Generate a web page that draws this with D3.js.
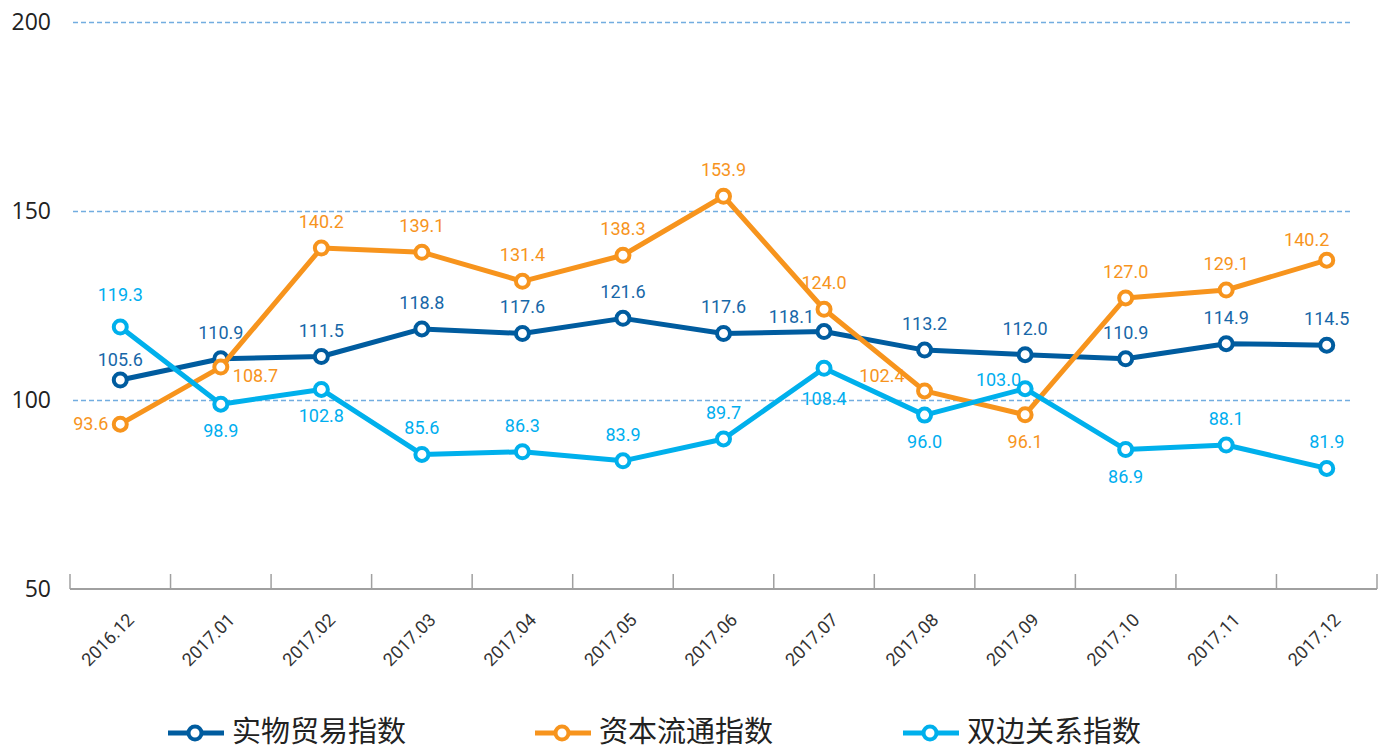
<!DOCTYPE html>
<html>
<head>
<meta charset="utf-8">
<script src="https://cdn.jsdelivr.net/npm/d3@7"></script>
<style>
  body { margin: 0; background: #fff; }
  svg { display: block; }
  .val { font-family: "Roboto", "DejaVu Sans", sans-serif; font-size: 18px; }
  .ytick { font-family: "Open Sans", "Noto Sans", sans-serif; font-size: 23px; fill: #222; }
  .xtick { font-family: "Roboto", sans-serif; font-size: 18px; fill: #333; }
  .legend { font-family: "Noto Sans CJK SC", sans-serif; font-size: 29px; fill: #222; }
</style>
</head>
<body>
<svg id="chart"></svg>
<script>
let months = ["2016.12", "2017.01", "2017.02", "2017.03", "2017.04", "2017.05", "2017.06",
              "2017.07", "2017.08", "2017.09", "2017.10", "2017.11", "2017.12"]
let y_ticks = [50, 100, 150, 200]

// 实物贸易指数
let trade_values = [105.3, 110.9, 111.5, 118.8, 117.6, 121.6, 117.6, 118.1, 113.2, 112.0, 110.9, 114.9, 114.5]
let trade_labels = ["105.6", "110.9", "111.5", "118.8", "117.6", "121.6", "117.6", "118.1", "113.2", "112.0", "110.9", "114.9", "114.5"]
// 资本流通指数
let capital_values = [93.6, 108.7, 140.2, 139.1, 131.4, 138.3, 153.9, 124.0, 102.4, 96.1, 127.0, 129.1, 137.0]
let capital_labels = ["93.6", "108.7", "140.2", "139.1", "131.4", "138.3", "153.9", "124.0", "102.4", "96.1", "127.0", "129.1", "140.2"]
// 双边关系指数
let relation_values = [119.3, 98.9, 102.8, 85.6, 86.3, 83.9, 89.7, 108.4, 96.0, 103.0, 86.9, 88.1, 81.9]
let relation_labels = ["119.3", "98.9", "102.8", "85.6", "86.3", "83.9", "89.7", "108.4", "96.0", "103.0", "86.9", "88.1", "81.9"]

// where each value label sits relative to its point
let trade_pos = ["a1", "a", "a", "a", "a", "a", "a", "la", "a", "a", "a", "a", "a"]
let capital_pos = ["l", "r", "a", "a", "a", "a", "a", "a", "l2", "b", "a", "a", "al"]
let relation_pos = ["a2", "b", "b", "a", "a", "a", "a", "b2", "b", "l3", "b", "a", "a"]

let width = 1386,
  height = 749,
  margins = {left: 70, right: 9, top: 22, bottom: 160};

let svg = d3.select("#chart").attr("width", width).attr("height", height)

let x = d3.scaleBand()
  .domain(months)
  .range([margins.left, width - margins.right])
let y = d3.scaleLinear()
  .domain([50, 200])
  .range([height - margins.bottom, margins.top])

let series = [
  {name: "实物贸易指数", values: trade_values, labels: trade_labels, pos: trade_pos, color: "#005c9f", text: "#1767a8"},
  {name: "资本流通指数", values: capital_values, labels: capital_labels, pos: capital_pos, color: "#f7941d", text: "#f7941d"},
  {name: "双边关系指数", values: relation_values, labels: relation_labels, pos: relation_pos, color: "#00b0ec", text: "#00aeef"}
]

// grid
svg.append("g")
  .selectAll("line")
  .data(y_ticks.slice(1)).enter()
  .append("line")
  .attr("x1", 73).attr("x2", 1353)
  .attr("y1", d => y(d) + 0.5).attr("y2", d => y(d) + 0.5)
  .attr("stroke", "#72ade0")
  .attr("stroke-width", 1.3)
  .attr("stroke-dasharray", "5,3")

// y labels
svg.append("g")
  .selectAll("text")
  .data(y_ticks).enter()
  .append("text")
  .attr("class", "ytick")
  .attr("x", 51)
  .attr("y", d => y(d))
  .attr("dy", "0.36em")
  .attr("text-anchor", "end")
  .text(d => d)

// x axis
let x_axis = svg.append("g")
  .attr("transform", `translate(0, ${y(50)})`)
x_axis.append("line")
  .attr("x1", margins.left).attr("x2", width - margins.right)
  .attr("stroke", "#a0a0a0").attr("stroke-width", 2)
x_axis.selectAll(".tk")
  .data(months.concat(["end"])).enter()
  .append("line")
  .attr("x1", d => d == "end" ? x.range()[1] : x(d))
  .attr("x2", d => d == "end" ? x.range()[1] : x(d))
  .attr("y1", -15).attr("y2", 0)
  .attr("stroke", "#a0a0a0").attr("stroke-width", 1.5)
x_axis.selectAll(".xtick")
  .data(months).enter()
  .append("text")
  .attr("class", "xtick")
  .attr("text-anchor", "end")
  .attr("transform", d => `translate(${x(d) + x.bandwidth() / 2 + 15}, 32)rotate(-45)`)
  .text(d => d)

let cx = i => x(months[i]) + x.bandwidth() / 2

let line = d3.line()
  .x((d, i) => cx(i))
  .y(d => y(d))

series.forEach(s => {
  let g = svg.append("g")
  g.append("path")
    .datum(s.values)
    .attr("d", line)
    .attr("fill", "none")
    .attr("stroke", s.color)
    .attr("stroke-width", 5)
    .attr("stroke-linejoin", "round")
  g.selectAll("circle")
    .data(s.values).enter()
    .append("circle")
    .attr("cx", (d, i) => cx(i))
    .attr("cy", d => y(d))
    .attr("r", 6.5)
    .attr("fill", "#fff")
    .attr("stroke", s.color)
    .attr("stroke-width", 4)
})

// value labels
let offsets = {
  a: [0, -20, "middle"],
  a1: [0, -14, "middle"],
  a2: [0, -26, "middle"],
  al: [-20, -14, "middle"],
  b: [0, 33, "middle"],
  b2: [0, 37, "middle"],
  l: [-12, 6, "end"],
  l2: [-20, -9, "end"],
  l3: [-4, -3, "end"],
  r: [12, 15, "start"],
  la: [-10, -9, "end"]
}
series.forEach(s => {
  svg.append("g")
    .selectAll("text")
    .data(s.values).enter()
    .append("text")
    .attr("class", "val")
    .attr("fill", s.text)
    .attr("x", (d, i) => cx(i) + offsets[s.pos[i]][0])
    .attr("y", (d, i) => y(d) + offsets[s.pos[i]][1])
    .attr("text-anchor", (d, i) => offsets[s.pos[i]][2])
    .text((d, i) => s.labels[i])
})

// legend
let legend_x = [168, 535, 903]
let legend = svg.append("g")
  .selectAll("g")
  .data(series).enter()
  .append("g")
  .attr("transform", (d, i) => `translate(${legend_x[i]}, 733)`)
legend.append("line")
  .attr("x1", 0).attr("x2", 56)
  .attr("stroke", d => d.color).attr("stroke-width", 5)
legend.append("circle")
  .attr("cx", 27).attr("r", 6.5)
  .attr("fill", "#fff")
  .attr("stroke", d => d.color).attr("stroke-width", 4)
legend.append("text")
  .attr("class", "legend")
  .attr("x", 64)
  .attr("y", -1)
  .attr("dy", "0.34em")
  .text(d => d.name)
</script>
</body>
</html>
